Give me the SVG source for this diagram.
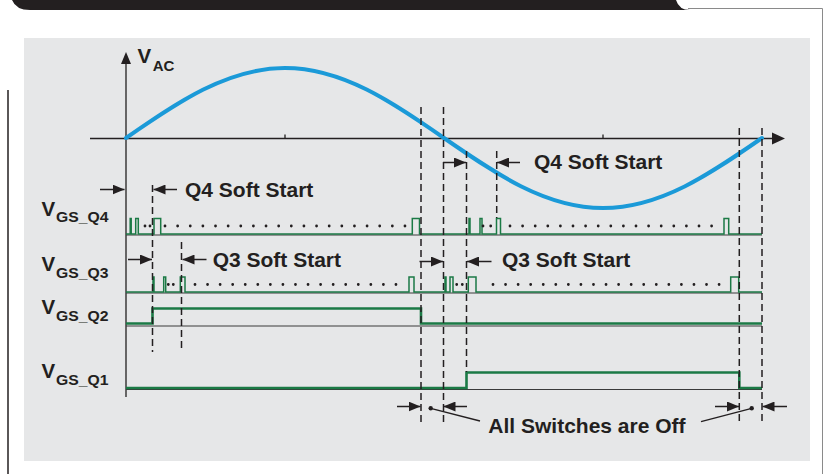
<svg xmlns="http://www.w3.org/2000/svg" width="825" height="474" viewBox="0 0 825 474">
<style>
.t{font-family:"Liberation Sans",Arial,sans-serif;font-weight:bold;fill:#231f20}
.lb{font-size:21px}
.v{font-size:20.5px}
.s{font-size:15px}
.dash{stroke:#231f20;stroke-width:1.5;stroke-dasharray:7 4;fill:none}
.arr{stroke:#231f20;stroke-width:1.5;fill:none;marker-end:url(#ah)}
.ax{stroke:#231f20;stroke-width:1.3;fill:none}
.base{stroke:#3a3a3a;stroke-width:1;fill:none}
.pul{stroke:#1b7a45;stroke-width:1.5;fill:none}
.lvl{stroke:#1b7a45;stroke-width:2.6;fill:none}
.dot{stroke:#231f20;stroke-width:2.8;stroke-linecap:round;fill:none}
</style>
<defs>
<marker id="ah" viewBox="0 0 12 10" refX="12" refY="5" markerWidth="12" markerHeight="10" markerUnits="userSpaceOnUse" orient="auto"><path d="M0,0 L12,5 L0,10 Z" fill="#231f20"/></marker>
</defs>
<rect width="825" height="474" fill="#ffffff"/>
<g id="frame">
<path d="M12,0 H676 Q679,10 690,10 H30 Q16,10 12,0 Z" fill="#231f20"/>
<path d="M688,8.5 H822.5 V474" stroke="#8a8a8a" stroke-width="1" fill="none"/>
<line x1="8" y1="90" x2="8" y2="474" stroke="#231f20" stroke-width="1.5"/>
<rect x="24" y="38" width="786" height="423" fill="#e6e7e8"/>
</g>
<g id="axes">
<line class="ax" x1="126" y1="62" x2="126" y2="397"/>
<path d="M126,52 L131,64 L121,64 Z" fill="#231f20"/>
<line class="ax" x1="90" y1="138.5" x2="773" y2="138.5"/>
<path d="M785,138.5 L772,132.5 L772,144.5 Z" fill="#231f20"/>
<line class="ax" x1="285" y1="134.5" x2="285" y2="138.5"/>
<line class="ax" x1="603" y1="134.5" x2="603" y2="138.5"/>
</g>
<g id="vac-wave">
<path d="M126,138 C177.86,102.14 227.45,68 285,68 C342.55,68 392.14,102.14 444,138 C495.86,173.86 545.45,208 603,208 C660.55,208 710.14,173.86 762,138" stroke="#1b9ad8" stroke-width="4" fill="none" stroke-linecap="round"/>
</g>
<g id="rows">
<line class="base" x1="126" y1="235" x2="762" y2="235"/>
<path class="pul" d="M126,234 H130.2 V218.5 H131.2 V234 H135.7 V218.5 H138.3 V234 H154 V218.5 H160.7 V234 H412.3 V218.5 H419.5 V234 H469 V218.5 H470 V234 H480 V218.5 H482 V234 H496.5 V218.5 H500.5 V234 H724 V218.5 H728.7 V234 H762"/>
<line class="dot" x1="145" y1="226" x2="151" y2="226" stroke-dasharray="0 5"/>
<line class="dot" x1="165" y1="226" x2="406" y2="226" stroke-dasharray="0 12.63"/>
<line class="dot" x1="483" y1="226" x2="491" y2="226" stroke-dasharray="0 7.7"/>
<line class="dot" x1="510" y1="226" x2="712" y2="226" stroke-dasharray="0 12.6"/>

<line class="base" x1="126" y1="293" x2="762" y2="293"/>
<path class="pul" d="M126,292 H153 V277 H154 V292 H163.7 V277 H165.7 V292 H180.3 V277 H185 V292 H409 V277 H414 V292 H445 V277 H446 V292 H450 V277 H453 V292 H468.3 V277 H476 V292 H730.7 V277 H738.7 V292 H762"/>
<line class="dot" x1="168.3" y1="284.5" x2="174" y2="284.5" stroke-dasharray="0 5"/>
<line class="dot" x1="195" y1="284.5" x2="397" y2="284.5" stroke-dasharray="0 12.56"/>
<line class="dot" x1="456.7" y1="284.5" x2="463" y2="284.5" stroke-dasharray="0 5.6"/>
<line class="dot" x1="493" y1="284.5" x2="720" y2="284.5" stroke-dasharray="0 12.56"/>

<line class="base" x1="126" y1="326" x2="762" y2="326"/>
<path class="lvl" d="M126,323.5 H152.5 V308.5 H421 V323.5 H762"/>

<line class="base" x1="126" y1="389.5" x2="762" y2="389.5"/>
<path class="lvl" d="M126,388 H466.5 V372.5 H739.3 V388 H762"/>
</g>
<g id="dashed">
<line class="dash" x1="152.5" y1="185" x2="152.5" y2="352"/>
<line class="dash" x1="181.5" y1="242" x2="181.5" y2="352"/>
<line class="dash" x1="421" y1="107" x2="421" y2="422"/>
<line class="dash" x1="443.5" y1="107" x2="443.5" y2="422"/>
<line class="dash" x1="466.5" y1="151" x2="466.5" y2="372"/>
<line class="dash" x1="496.7" y1="151" x2="496.7" y2="218"/>
<line class="dash" x1="739.3" y1="128" x2="739.3" y2="422"/>
<line class="dash" x1="762" y1="128" x2="762" y2="422"/>
</g>
<g id="connectors">
<line class="arr" x1="100" y1="189.5" x2="124.5" y2="189.5"/>
<line class="arr" x1="177" y1="189.5" x2="153.5" y2="189.5"/>
<line class="arr" x1="128" y1="259.5" x2="152" y2="259.5"/>
<line class="arr" x1="206.5" y1="259.5" x2="182.5" y2="259.5"/>
<line class="arr" x1="443" y1="162.5" x2="466" y2="162.5"/>
<line class="arr" x1="520" y1="162.5" x2="497" y2="162.5"/>
<line class="arr" x1="419.5" y1="261.5" x2="443" y2="261.5"/>
<line class="arr" x1="491.5" y1="261.5" x2="467" y2="261.5"/>
<line class="arr" x1="397" y1="406.5" x2="420.5" y2="406.5"/>
<line class="arr" x1="467" y1="406.5" x2="443.5" y2="406.5"/>
<line class="arr" x1="715" y1="406.5" x2="739" y2="406.5"/>
<line class="arr" x1="787" y1="406.5" x2="762.5" y2="406.5"/>
<line x1="430.7" y1="408.3" x2="480" y2="421" stroke="#231f20" stroke-width="1.3"/>
<circle cx="430.7" cy="408.3" r="2.2" fill="#231f20"/>
<line x1="751.7" y1="408.3" x2="701" y2="421.7" stroke="#231f20" stroke-width="1.3"/>
<circle cx="751.7" cy="408.3" r="2.2" fill="#231f20"/>
</g>
<g id="labels">
<text class="t v" x="137.5" y="63.3">V</text>
<text class="t s" x="152.7" y="70.5">AC</text>
<text class="t v" x="41.5" y="216">V</text>
<text class="t s" x="56" y="222" textLength="52.5" lengthAdjust="spacingAndGlyphs">GS_Q4</text>
<text class="t v" x="41.5" y="271">V</text>
<text class="t s" x="56" y="277.5" textLength="52.5" lengthAdjust="spacingAndGlyphs">GS_Q3</text>
<text class="t v" x="41.5" y="314">V</text>
<text class="t s" x="56" y="320.5" textLength="52.5" lengthAdjust="spacingAndGlyphs">GS_Q2</text>
<text class="t v" x="41.5" y="378.3">V</text>
<text class="t s" x="56" y="384.8" textLength="52.5" lengthAdjust="spacingAndGlyphs">GS_Q1</text>
<text class="t lb" x="185" y="197">Q4 Soft Start</text>
<text class="t lb" x="534" y="168.5">Q4 Soft Start</text>
<text class="t lb" x="212.7" y="266.7">Q3 Soft Start</text>
<text class="t lb" x="502" y="267.3">Q3 Soft Start</text>
<text class="t lb" x="488.3" y="433.3">All Switches are Off</text>
</g>
</svg>
